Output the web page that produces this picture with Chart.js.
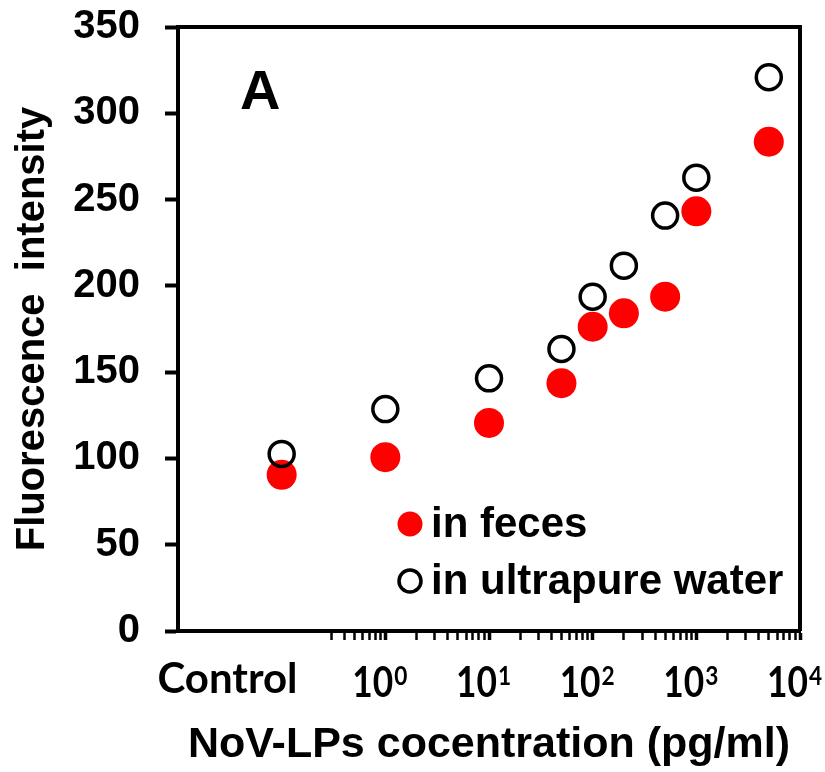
<!DOCTYPE html>
<html>
<head>
<meta charset="utf-8">
<script src="https://cdn.jsdelivr.net/npm/chart.js@4/dist/chart.umd.min.js"></script>
<style>
  html, body { margin: 0; padding: 0; background: #ffffff; }
  #wrap { width: 825px; height: 772px; position: relative; }
</style>
</head>
<body>
<div id="wrap"><canvas id="c" width="825" height="772"></canvas></div>
<script>
// ---- data ----
// x position of each measurement (pg/ml); "Control" is plotted at 0.1
const concentrations = [0.1, 1, 10, 50, 100, 200, 500, 1000, 5000];
const fecesValues    = [90.5, 100.7, 120.6, 143.6, 176.3, 184.1, 193.7, 243.2, 283.5];
const waterValues    = [102.6, 128.6, 146.4, 163.4, 193.7, 211.7, 240.7, 262.7, 320.9];
const seriesNames    = ['in feces', 'in ultrapure water'];

// axis ticks
const xMajorTicks    = [1, 10, 100, 1000, 10000];
const xMajorBases    = ['10', '10', '10', '10', '10'];
const xMajorExps     = ['0', '1', '2', '3', '4'];
const controlTick    = 0.03;            // where the "Control" label sits
const controlLabel   = 'Control';
const xMin = 0.01, xMax = 10000;
const yMin = 0, yMax = 350, yStep = 50;
const xTitle = 'NoV-LPs cocentration (pg/ml)';
const yTitle = 'Fluorescence  intensity';
const panelLetter = 'A';

const toPoints = (vals) => vals.map((v, i) => ({ x: concentrations[i], y: v }));

// minor log ticks from 0.3 upward
function buildXTicks() {
  const t = [{ value: controlTick }];
  for (let d = -1; d <= 3; d++) {
    for (let m = 1; m <= 9; m++) {
      const v = +(m * Math.pow(10, d)).toPrecision(6);
      if (v >= 0.3) t.push({ value: v });
    }
  }
  t.push({ value: 10000 });
  return t;
}
const majorIndex = (v) => xMajorTicks.findIndex(m => Math.abs(m - v) / m < 1e-6);

const frame = {
  id: 'frame',
  beforeDatasetsDraw(chart) {
    const { ctx, chartArea: a } = chart;
    ctx.save();
    ctx.strokeStyle = '#000';
    ctx.lineWidth = 4;
    ctx.beginPath();
    ctx.moveTo(a.left, a.top);
    ctx.lineTo(a.right, a.top);
    ctx.lineTo(a.right, a.bottom);
    ctx.stroke();
    ctx.restore();
  },
  afterDraw(chart) {
    const { ctx, chartArea: a } = chart;
    const xs = chart.scales.x;
    const sx = 0.84;   // narrower digits, like the reference face
    ctx.save();
    ctx.fillStyle = '#000';
    ctx.textBaseline = 'alphabetic';
    ctx.textAlign = 'left';
    xMajorTicks.forEach((v, i) => {
      const px = xs.getPixelForValue(v);
      ctx.font = 'bold 42px Lato, sans-serif';
      const wb = ctx.measureText(xMajorBases[i]).width * sx;
      ctx.font = 'bold 27px Lato, sans-serif';
      const we = ctx.measureText(xMajorExps[i]).width * sx;
      const left = px - 6 - (wb + we) / 2;
      const base = a.bottom + 66;
      ctx.save();
      ctx.translate(left, base);
      ctx.scale(sx, 1);
      ctx.font = 'bold 42px Lato, sans-serif';
      ctx.fillText(xMajorBases[i], 0, 0);
      ctx.font = 'bold 27px Lato, sans-serif';
      ctx.fillText(xMajorExps[i], (wb + 1) / sx, -12);
      ctx.restore();
    });
    ctx.restore();
  },
  afterDatasetsDraw(chart) {
    const { ctx, chartArea: a } = chart;
    ctx.save();
    // panel letter
    ctx.fillStyle = '#000';
    ctx.font = 'bold 56px "Liberation Sans", Arial, sans-serif';
    ctx.textBaseline = 'alphabetic';
    ctx.textAlign = 'left';
    ctx.fillText(panelLetter, a.left + 62, a.top + 82);
    // legend
    const ds = chart.data.datasets;
    const lx = a.left + 232;
    const rows = [a.top + 497, a.top + 554];
    ctx.font = 'bold 42px "Liberation Sans", Arial, sans-serif';
    ds.forEach((d, i) => {
      const cy = rows[i];
      ctx.beginPath();
      ctx.arc(lx, cy, i === 0 ? 12.5 : 11, 0, Math.PI * 2);
      if (i === 0) {
        ctx.fillStyle = d.backgroundColor;
        ctx.fill();
      } else {
        ctx.lineWidth = 3.5;
        ctx.strokeStyle = d.borderColor;
        ctx.stroke();
      }
      ctx.fillStyle = '#000';
      ctx.textBaseline = 'middle';
      ctx.fillText(d.label, lx + 21, cy + 1);
    });
    ctx.restore();
  }
};

new Chart(document.getElementById('c'), {
  type: 'scatter',
  data: {
    datasets: [
      {
        label: seriesNames[0],
        data: toPoints(fecesValues),
        backgroundColor: '#ff0000',
        borderColor: '#ff0000',
        borderWidth: 0,
        pointRadius: 15,
        pointHoverRadius: 15,
        order: 2
      },
      {
        label: seriesNames[1],
        data: toPoints(waterValues),
        backgroundColor: 'rgba(0,0,0,0)',
        borderColor: '#000000',
        borderWidth: 3.5,
        pointRadius: 12.5,
        pointHoverRadius: 12.5,
        order: 1
      }
    ]
  },
  options: {
    responsive: false,
    devicePixelRatio: 1,
    animation: false,
    layout: { padding: { top: 27, right: 25, bottom: 0, left: 0 } },
    plugins: { legend: { display: false }, tooltip: { enabled: false } },
    scales: {
      x: {
        type: 'logarithmic',
        min: xMin, max: xMax,
        afterBuildTicks: (s) => { s.ticks = buildXTicks(); },
        afterFit: (s) => { s.height = 141; s.paddingLeft = 0; s.paddingRight = 0; },
        border: { display: true, color: '#000', width: 4 },
        grid: {
          drawOnChartArea: false, drawTicks: true, tickLength: 9,
          tickColor: (c) => (c.tick && c.tick.value === controlTick) ? 'rgba(0,0,0,0)' : '#000',
          tickWidth: (c) => (c.tick && majorIndex(c.tick.value) >= 0) ? 3.5 : 2.5
        },
        ticks: {
          autoSkip: false, maxRotation: 0, minRotation: 0,
          padding: 14, color: '#000',
          font: { family: 'Lato', weight: 'bold', size: 42 },
          callback: (v) => (v === controlTick ? controlLabel : '')
        },
        title: {
          display: true, text: xTitle, color: '#000',
          font: { family: 'Liberation Sans', weight: 'bold', size: 43, lineHeight: 1 },
          padding: { top: 0, bottom: 5 }
        }
      },
      y: {
        min: yMin, max: yMax,
        afterFit: (s) => { s.width = 178; s.paddingTop = 0; s.paddingBottom = 0; },
        border: { display: true, color: '#000', width: 4 },
        grid: { drawOnChartArea: false, drawTicks: true, tickLength: 13, tickWidth: 4, tickColor: '#000' },
        ticks: {
          stepSize: yStep, padding: 25, color: '#000',
          font: { family: 'Liberation Sans', weight: 'bold', size: 40 }
        },
        title: {
          display: true, text: yTitle, color: '#000',
          font: { family: 'Liberation Sans', weight: 'bold', size: 40, lineHeight: 1 },
          padding: { top: 13, bottom: 0 }
        }
      }
    }
  },
  plugins: [frame]
});
</script>
</body>
</html>
